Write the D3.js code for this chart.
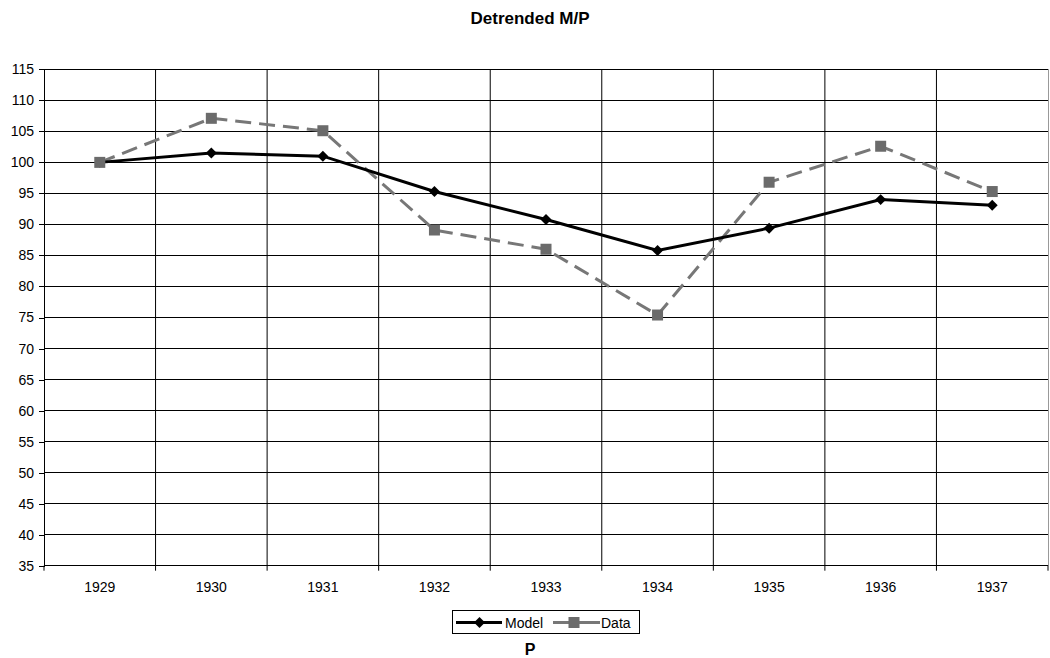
<!DOCTYPE html>
<html>
<head>
<meta charset="utf-8">
<script src="https://cdn.jsdelivr.net/npm/d3@7"></script>
<style>
  html, body { margin: 0; padding: 0; background: #fff; }
  svg { display: block; font-family: "Liberation Sans", Arial, sans-serif; }
</style>
</head>
<body>
<svg id="chart" width="1050" height="658"></svg>
<script>
// Detrended real money balances, model vs. data, 1929-1937
const years = ["1929", "1930", "1931", "1932", "1933", "1934", "1935", "1936", "1937"];
const modelValues = [100, 101.5, 101.0, 95.3, 90.8, 85.8, 89.4, 94.0, 93.1];
const dataValues = [100, 107.1, 105.1, 89.1, 86.0, 75.4, 96.8, 102.6, 95.3];
const yTicks = d3.range(35, 116, 5);
const seriesNames = ["Model", "Data"];

const svg = d3.select("#chart");
const plot = { left: 44, right: 1048, top: 69.3, bottom: 565.7 };

const x = d3.scaleBand().domain(years).range([plot.left, plot.right]);
const y = d3.scaleLinear().domain([35, 115]).range([plot.bottom, plot.top]);
const cx = d => x(d) + x.bandwidth() / 2;

// Title
svg.append("text")
  .attr("x", 530).attr("y", 23.5)
  .attr("text-anchor", "middle")
  .style("font-size", "17px").style("font-weight", "bold")
  .text("Detrended M/P");

// Plot frame
svg.append("rect")
  .attr("x", plot.left).attr("y", plot.top)
  .attr("width", plot.right - plot.left).attr("height", plot.bottom - plot.top)
  .attr("fill", "none").attr("stroke", "#999").attr("stroke-width", 1)
  .attr("shape-rendering", "crispEdges");

// Horizontal gridlines
svg.append("g").selectAll("line")
  .data(yTicks.filter(t => t > 35))
  .join("line")
  .attr("x1", plot.left).attr("x2", plot.right)
  .attr("y1", d => y(d)).attr("y2", d => y(d))
  .attr("stroke", "#000").attr("stroke-width", 1)
  .attr("shape-rendering", "crispEdges");

// Vertical gridlines at category boundaries
svg.append("g").selectAll("line")
  .data(years.slice(1))
  .join("line")
  .attr("x1", d => x(d)).attr("x2", d => x(d))
  .attr("y1", plot.top).attr("y2", plot.bottom)
  .attr("stroke", "#000").attr("stroke-width", 1);

// Y axis
const yAxis = svg.append("g")
  .attr("transform", `translate(${plot.left},0)`)
  .call(d3.axisLeft(y).tickValues(yTicks).tickSize(5).tickPadding(5));
yAxis.select(".domain").attr("stroke", "#000").attr("shape-rendering", "crispEdges");
yAxis.selectAll(".tick line").attr("stroke", "#000").attr("shape-rendering", "crispEdges");
yAxis.selectAll("text").style("font-size", "14px").attr("fill", "#000")
  .attr("font-family", "Liberation Sans, Arial, sans-serif");

// X axis with ticks at category boundaries
const xAxis = svg.append("g")
  .attr("transform", `translate(0,${plot.bottom})`);
xAxis.append("line")
  .attr("x1", plot.left).attr("x2", plot.right)
  .attr("stroke", "#000").attr("shape-rendering", "crispEdges");
xAxis.selectAll("line.tk")
  .data(years.concat(["end"]))
  .join("line").attr("class", "tk")
  .attr("x1", (d, i) => plot.left + i * x.bandwidth())
  .attr("x2", (d, i) => plot.left + i * x.bandwidth())
  .attr("y1", 0).attr("y2", 5)
  .attr("stroke", "#000");
xAxis.selectAll("text")
  .data(years)
  .join("text")
  .attr("x", d => cx(d)).attr("y", 26)
  .attr("text-anchor", "middle")
  .style("font-size", "14px")
  .text(d => d);

// Series lines
const line = d3.line().x((d, i) => cx(years[i])).y(d => y(d));

svg.append("path")
  .datum(dataValues)
  .attr("d", line)
  .attr("fill", "none").attr("stroke", "#777").attr("stroke-width", 3)
  .attr("stroke-dasharray", "16,8");

svg.append("path")
  .datum(modelValues)
  .attr("d", line)
  .attr("fill", "none").attr("stroke", "#000").attr("stroke-width", 3);

// Markers: black diamonds for the model, grey squares for the data
const diamondPath = d3.symbol().type(d3.symbolSquare).size(60);
svg.append("g").selectAll("path")
  .data(modelValues)
  .join("path")
  .attr("d", diamondPath)
  .attr("transform", (d, i) => `translate(${cx(years[i])},${y(d)}) rotate(45)`)
  .attr("fill", "#000");

svg.append("g").selectAll("rect")
  .data(dataValues)
  .join("rect")
  .attr("x", (d, i) => cx(years[i]) - 5.5)
  .attr("y", d => y(d) - 5.5)
  .attr("width", 11).attr("height", 11)
  .attr("fill", "#6b6b6b");

// Legend
const legend = svg.append("g");
legend.append("rect")
  .attr("x", 452).attr("y", 610.5).attr("width", 187).attr("height", 23)
  .attr("fill", "#fff").attr("stroke", "#000").attr("stroke-width", 1)
  .attr("shape-rendering", "crispEdges");
const legY = 622.5;
legend.append("line")
  .attr("x1", 456).attr("x2", 502).attr("y1", legY).attr("y2", legY)
  .attr("stroke", "#000").attr("stroke-width", 3);
legend.append("path")
  .attr("d", diamondPath)
  .attr("transform", `translate(479.5,${legY}) rotate(45)`)
  .attr("fill", "#000");
legend.append("text")
  .attr("x", 505).attr("y", legY + 5)
  .style("font-size", "14px")
  .text(seriesNames[0]);
legend.append("line")
  .attr("x1", 553).attr("x2", 600).attr("y1", legY).attr("y2", legY)
  .attr("stroke", "#777").attr("stroke-width", 3);
legend.append("rect")
  .attr("x", 574 - 5.5).attr("y", legY - 5.5).attr("width", 11).attr("height", 11)
  .attr("fill", "#6b6b6b");
legend.append("text")
  .attr("x", 601).attr("y", legY + 5)
  .style("font-size", "14px")
  .text(seriesNames[1]);

// X axis title
svg.append("text")
  .attr("x", 530).attr("y", 655)
  .attr("text-anchor", "middle")
  .style("font-size", "16px").style("font-weight", "bold")
  .text("P");
</script>
</body>
</html>
